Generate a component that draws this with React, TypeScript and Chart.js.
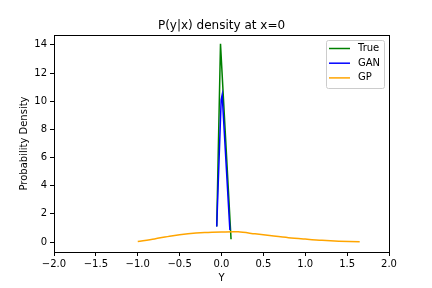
import React, { useEffect, useRef } from "react";
import { Chart, registerables } from "chart.js";

Chart.register(...registerables);

const trueX = [-0.057, -0.012, 0.114];
const trueY = [1.1, 14.07, 0.19];

const ganX = [-0.057, -0.004, 0.008, 0.1];
const ganY = [1.1, 10.1, 10.45, 0.85];

const gpX = [-1.0, -0.8, -0.6, -0.4, -0.2, 0.0, 0.2, 0.4, 0.6, 0.8, 1.0, 1.2, 1.4, 1.65];
const gpY = [0.04, 0.22, 0.43, 0.58, 0.67, 0.71, 0.72, 0.58, 0.44, 0.31, 0.21, 0.12, 0.06, 0.02];

const xTicks = [-2, -1.5, -1, -0.5, 0, 0.5, 1, 1.5, 2];
const yTicks = [0, 2, 4, 6, 8, 10, 12, 14];

const FONT = "DejaVu Sans";

const toPts = (xs: number[], ys: number[]) => xs.map((x, i) => ({ x, y: ys[i] }));

const decorPlugin = {
  id: "decor",
  afterDraw(chart: any) {
    const { ctx, chartArea } = chart;
    const { left, right, top, bottom } = chartArea;
    ctx.save();
    ctx.strokeStyle = "#000";
    ctx.lineWidth = 1;
    ctx.strokeRect(Math.round(left) + 0.5, Math.round(top) + 0.5, Math.round(right - left), Math.round(bottom - top));
    ctx.fillStyle = "#000";
    ctx.font = `12px ${FONT}`;
    ctx.textAlign = "center";
    ctx.textBaseline = "alphabetic";
    ctx.fillText("P(y|x) density at x=0", (left + right) / 2, 29);
    ctx.font = `10px ${FONT}`;
    ctx.fillText("Y", (left + right) / 2, 281);
    ctx.save();
    ctx.translate(27, (top + bottom) / 2);
    ctx.rotate(-Math.PI / 2);
    ctx.fillText("Probability Density", 0, 0);
    ctx.restore();
    const bx = 326, by = 40, bw = 58, bh = 48;
    ctx.fillStyle = "rgba(255,255,255,0.8)";
    ctx.strokeStyle = "#cccccc";
    ctx.lineWidth = 1;
    ctx.beginPath();
    (ctx as any).roundRect ? (ctx as any).roundRect(bx + 0.5, by + 0.5, bw, bh, 2) : ctx.rect(bx + 0.5, by + 0.5, bw, bh);
    ctx.fill();
    ctx.stroke();
    const items = chart.data.datasets;
    items.forEach((ds: any, i: number) => {
      const yy = 48.5 + i * 14.7;
      ctx.strokeStyle = ds.borderColor;
      ctx.lineWidth = 1.5;
      ctx.beginPath();
      ctx.moveTo(329, yy);
      ctx.lineTo(350, yy);
      ctx.stroke();
      ctx.fillStyle = "#000";
      ctx.font = `10px ${FONT}`;
      ctx.textAlign = "left";
      ctx.textBaseline = "middle";
      ctx.fillText(ds.label, 358, yy);
    });
    ctx.restore();
  },
};

const fmtX = (v: number) => (v < 0 ? "\u2212" : "") + Math.abs(v).toFixed(1);

export default function App() {
  const ref = useRef<HTMLCanvasElement>(null);
  useEffect(() => {
    const el = ref.current;
    if (!el) return;
    const chart = new Chart(el, {
      type: "line",
      data: {
        datasets: [
          { label: "True", order: 3, data: toPts(trueX, trueY), borderColor: "#008000", borderWidth: 1.5, pointRadius: 0, fill: false, tension: 0 },
          { label: "GAN", order: 2, data: toPts(ganX, ganY), borderColor: "#0000ff", borderWidth: 1.5, pointRadius: 0, fill: false, tension: 0 },
          { label: "GP", order: 1, data: toPts(gpX, gpY), borderColor: "#ffa500", borderWidth: 1.5, pointRadius: 0, fill: false, tension: 0.3 },
        ],
      },
      options: {
        responsive: false,
        animation: false,
        events: [],
        layout: { padding: { top: 35, right: 43, left: 0, bottom: 0 } },
        plugins: { legend: { display: false }, title: { display: false }, tooltip: { enabled: false } },
        scales: {
          x: {
            type: "linear",
            min: -2,
            max: 2,
            afterFit: (s: any) => { s.height = 36; },
            afterBuildTicks: (s: any) => { s.ticks = xTicks.map((v) => ({ value: v })); },
            ticks: { color: "#000", font: { family: FONT, size: 10 }, padding: 2, maxRotation: 0, autoSkip: false, callback: (v: any) => fmtX(Number(v)) },
            grid: { drawOnChartArea: false, drawTicks: true, tickLength: 4, color: "#000" },
            border: { display: true, color: "#000" },
          },
          y: {
            type: "linear",
            min: -0.71,
            max: 14.7,
            afterFit: (s: any) => { s.width = 54; },
            afterBuildTicks: (s: any) => { s.ticks = yTicks.map((v) => ({ value: v })); },
            ticks: { color: "#000", font: { family: FONT, size: 10 }, padding: 3, autoSkip: false, callback: (v: any) => String(v) },
            grid: { drawOnChartArea: false, drawTicks: true, tickLength: 4, color: "#000" },
            border: { display: true, color: "#000" },
          },
        },
      },
      plugins: [decorPlugin],
    });
    return () => chart.destroy();
  }, []);
  return (
    <div style={{ position: "absolute", left: 0, top: 0, width: 432, height: 288, background: "#fff" }}>
      <canvas ref={ref} width={432} height={288} style={{ width: 432, height: 288, display: "block" }} />
    </div>
  );
}
